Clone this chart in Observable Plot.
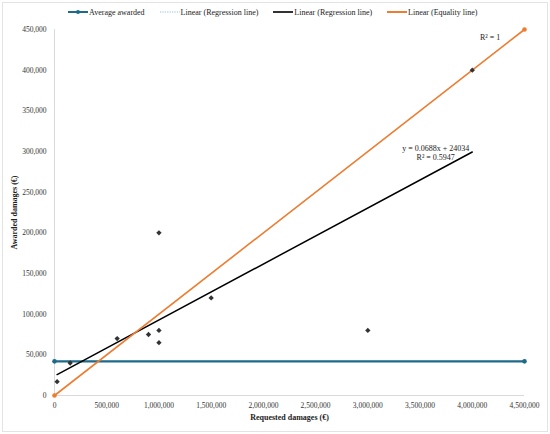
<!DOCTYPE html>
<html>
<head>
<meta charset="utf-8">
<script src="https://cdn.jsdelivr.net/npm/d3@7"></script>
<script src="https://cdn.jsdelivr.net/npm/@observablehq/plot@0.6"></script>
<style>
  html, body { margin: 0; padding: 0; background: #fff; }
  #wrap { position: relative; width: 550px; height: 434px; font-family: "Liberation Serif", serif; }
  #frame { position: absolute; left: 2px; top: 2px; right: 2px; bottom: 2px; border: 1px solid #e3e3e3; pointer-events: none; }
  #legend { height: 20px; display: flex; align-items: center; padding-left: 68px; padding-top: 4px; box-sizing: border-box; font-size: 8px; color: #222; }
  #legend .item { display: flex; align-items: center; margin-right: 15px; }
  #legend svg { margin-right: 1px; }
  #chart svg { display: block; }
</style>
</head>
<body>
<div id="wrap">
  <div id="legend"></div>
  <div id="chart"></div>
  <div id="frame"></div>
</div>
<script>
// Data
const requested = [25000, 150000, 600000, 900000, 1000000, 1000000, 1000000, 1500000, 3000000, 4000000];
const awarded   = [17000, 40000, 70000, 75000, 80000, 65000, 200000, 120000, 80000, 400000];

const averageX = [0, 4500000];
const averageY = [42000, 42000];

const equalityX = [0, 4500000];
const equalityY = [0, 450000];

const xTicks = [0, 500000, 1000000, 1500000, 2000000, 2500000, 3000000, 3500000, 4000000, 4500000];
const yTicks = [0, 50000, 100000, 150000, 200000, 250000, 300000, 350000, 400000, 450000];

const annoText = ["R² = 1", "y = 0.0688x + 24034", "R² = 0.5947"];
const annoX = [4170000, 3650000, 3650000];
const annoY = [440000, 304000, 293000];

const legendLabels = ["Average awarded", "Linear (Regression line)", "Linear (Regression line)", "Linear (Equality line)"];

const teal = "#1d6a89";
const orange = "#ed7d31";

// Legend
const legend = document.getElementById("legend");
const swatches = [
  `<svg width="20" height="6"><line x1="0" y1="3" x2="20" y2="3" stroke="${teal}" stroke-width="2"/><circle cx="10" cy="3" r="2" fill="${teal}"/></svg>`,
  `<svg width="20" height="6"><line x1="0" y1="3" x2="20" y2="3" stroke="#8fc4dc" stroke-width="1.2" stroke-dasharray="1.2,1.2"/></svg>`,
  `<svg width="20" height="6"><line x1="0" y1="3" x2="20" y2="3" stroke="#333" stroke-width="2"/></svg>`,
  `<svg width="20" height="6"><line x1="0" y1="3" x2="20" y2="3" stroke="${orange}" stroke-width="2"/></svg>`
];
legendLabels.forEach((l, i) => {
  const d = document.createElement("div");
  d.className = "item";
  d.innerHTML = swatches[i] + `<span>${l}</span>`;
  legend.appendChild(d);
});

const pts = requested.map((x, i) => ({x, y: awarded[i]}));
const avg = averageX.map((x, i) => ({x, y: averageY[i]}));
const eq = equalityX.map((x, i) => ({x, y: equalityY[i]}));
const anno = annoText.map((t, i) => ({t, x: annoX[i], y: annoY[i]}));

const fmt = d3.format(",");

const chart = Plot.plot({
  width: 550,
  height: 414,
  marginLeft: 54,
  marginRight: 26,
  marginTop: 9,
  marginBottom: 39,
  style: { fontFamily: "Liberation Serif, serif", fontSize: "7.5px", color: "#333", background: "transparent" },
  x: { domain: [0, 4500000], ticks: xTicks, tickFormat: fmt, tickSize: 0, tickPadding: 7, label: null },
  y: { domain: [0, 450000], ticks: yTicks, tickFormat: fmt, tickSize: 0, tickPadding: 8, label: null },
  marks: [
    Plot.ruleX([0], { stroke: "#d9d9d9" }),
    Plot.ruleY([0], { stroke: "#d9d9d9" }),
    Plot.line(avg, { x: "x", y: "y", stroke: teal, strokeWidth: 2.2 }),
    Plot.dot(avg, { x: "x", y: "y", fill: teal, r: 2.3 }),
    Plot.linearRegressionY(pts, { x: "x", y: "y", stroke: "#000", strokeWidth: 1.5, ci: 0 }),
    Plot.line(eq, { x: "x", y: "y", stroke: orange, strokeWidth: 1.6 }),
    Plot.dot(eq, { x: "x", y: "y", fill: orange, r: 2.3 }),
    Plot.dot(pts, { x: "x", y: "y", symbol: "diamond2", fill: "#333", stroke: "none", r: 2.4 }),
    Plot.text(anno, { x: "x", y: "y", text: "t", fill: "#222", fontSize: 8 }),
    Plot.text(["Awarded damages (€)"], { frameAnchor: "left", textAnchor: "middle", rotate: -90, dx: -40, fontWeight: "bold", fill: "#222", fontSize: 8 }),
    Plot.text(["Requested damages (€)"], { frameAnchor: "bottom", dy: 24, fontWeight: "bold", fill: "#222", fontSize: 8 })
  ]
});
document.getElementById("chart").appendChild(chart);
</script>
</body>
</html>
